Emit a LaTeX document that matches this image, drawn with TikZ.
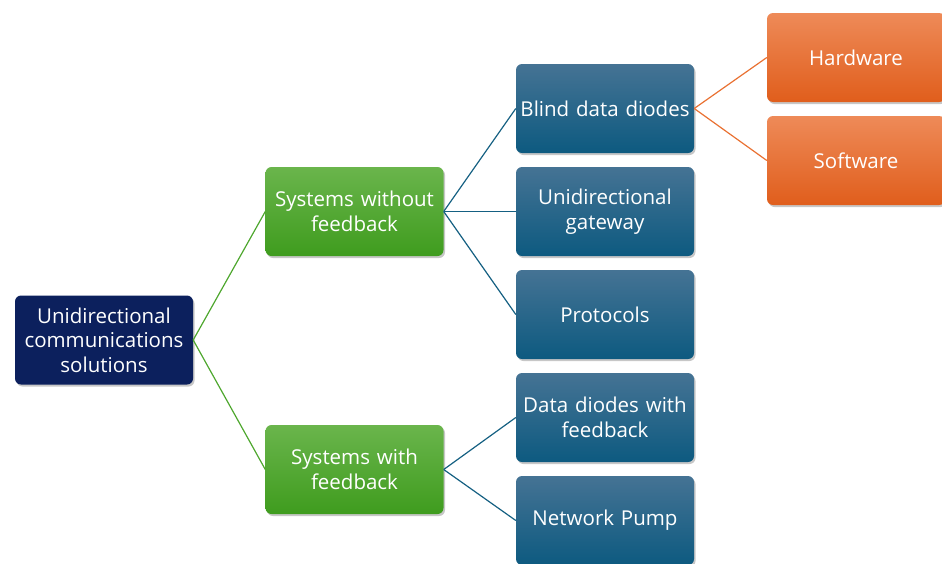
\documentclass[tikz,border=0pt]{standalone}
\usepackage{fontspec}
\setmainfont{Open Sans}
\usetikzlibrary{shadows}
\definecolor{navy}{HTML}{0C205D}
\definecolor{grnA}{HTML}{6AB54C}
\definecolor{grnB}{HTML}{3F9C1E}
\definecolor{grnL}{HTML}{4EA72E}
\definecolor{bluA}{HTML}{457394}
\definecolor{bluB}{HTML}{0D5A80}
\definecolor{bluL}{HTML}{156082}
\definecolor{orA}{HTML}{EE8A58}
\definecolor{orB}{HTML}{E05E1C}
\definecolor{orL}{HTML}{E97132}
\tikzset{
  box/.style={rectangle, rounded corners=6pt, minimum width=178pt, minimum height=89pt,
    text width=174pt, align=center, text=white, inner sep=0pt,
    font=\fontsize{20.5}{24.5}\selectfont,
    drop shadow={shadow xshift=1.5pt, shadow yshift=-2pt, fill=black, opacity=0.22}},
  rootbox/.style={box, fill=navy},
  grnbox/.style={box, top color=grnA, bottom color=grnB},
  blubox/.style={box, top color=bluA, bottom color=bluB},
  orbox/.style={box, top color=orA, bottom color=orB},
  link/.style={line width=1.2pt}
}
\begin{document}
\begin{tikzpicture}[x=1pt,y=-1pt]
\useasboundingbox (0,0) rectangle (942,563);
\node[rootbox] (root) at (104,340) {Unidirectional\\communications\\solutions};
\node[grnbox] (nofb) at (354.5,211.5) {Systems without\\feedback};
\node[grnbox] (wfb) at (354.5,469.5) {Systems with\\feedback};
\node[blubox] (blind) at (605,108.5) {Blind data diodes};
\node[blubox] (gate) at (605,211.5) {Unidirectional\\gateway};
\node[blubox] (proto) at (605,314.5) {Protocols};
\node[blubox] (ddfb) at (605,417.5) {Data diodes with\\feedback};
\node[blubox] (pump) at (605,520.5) {Network Pump};
\node[orbox] (hw) at (856,57.5) {Hardware};
\node[orbox] (sw) at (856,160.5) {Software};
\draw[link, grnL] (root.east) -- (nofb.west);
\draw[link, grnL] (root.east) -- (wfb.west);
\draw[link, bluL] (nofb.east) -- (blind.west);
\draw[link, bluL] (nofb.east) -- (gate.west);
\draw[link, bluL] (nofb.east) -- (proto.west);
\draw[link, bluL] (wfb.east) -- (ddfb.west);
\draw[link, bluL] (wfb.east) -- (pump.west);
\draw[link, orL] (blind.east) -- (hw.west);
\draw[link, orL] (blind.east) -- (sw.west);
\end{tikzpicture}
\end{document}
